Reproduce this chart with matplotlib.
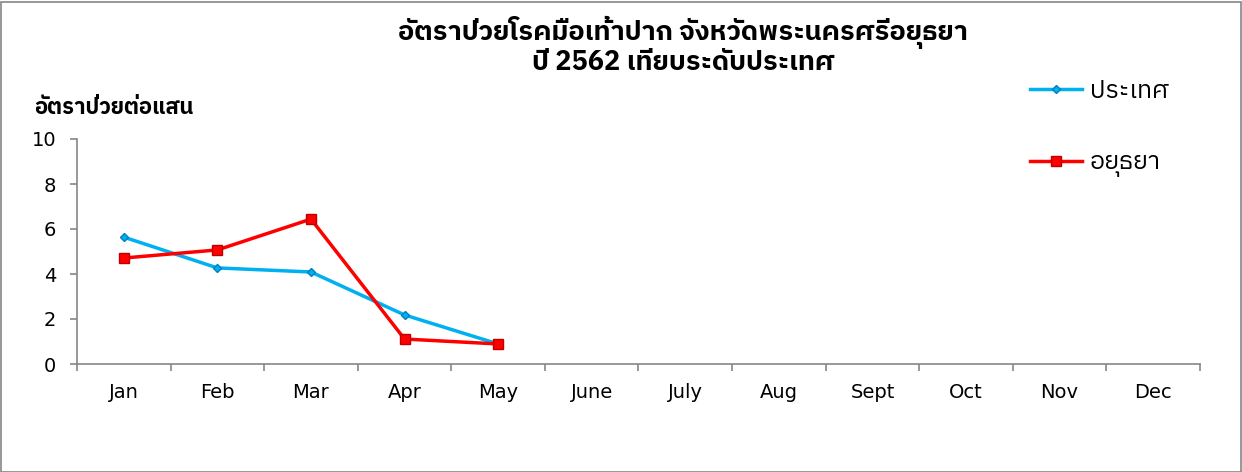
import matplotlib
matplotlib.use("Agg")
import matplotlib.pyplot as plt
from matplotlib.patches import Rectangle
import numpy as np

plt.rcParams['font.family'] = ['DejaVu Sans', 'IBM Plex Sans Thai']
thai = ['IBM Plex Sans Thai', 'DejaVu Sans']

months = ['Jan', 'Feb', 'Mar', 'Apr', 'May', 'June', 'July', 'Aug', 'Sept', 'Oct', 'Nov', 'Dec']
country = [5.64, 4.27, 4.09, 2.18, 0.89]
ayutthaya = [4.71, 5.07, 6.44, 1.11, 0.89]

title = "อัตราป่วยโรคมือเท้าปาก จังหวัดพระนครศรีอยุธยา\nปี 2562 เทียบระดับประเทศ"
ylabel = "อัตราป่วยต่อแสน"

fig = plt.figure(figsize=(12.42, 4.72), dpi=100)
ax = fig.add_axes([77 / 1242, 1 - 364 / 472, (1200 - 77) / 1242, (364 - 139) / 472])

x = np.arange(len(months))
ax.plot(x[:len(country)], country, color='#00B0F0', lw=2.5, marker='D', ms=4.5,
        mfc='#00B0F0', mec='#0080C0', label='ประเทศ')
ax.plot(x[:len(ayutthaya)], ayutthaya, color='#FF0000', lw=2.5, marker='s', ms=7,
        mfc='#FF0000', mec='#C00000', label='อยุธยา')

ax.set_xlim(-0.5, len(months) - 0.5)
ax.set_ylim(0, 10)
ax.set_yticks(range(0, 11, 2))
ax.set_xticks(x)
ax.set_xticklabels(months)
ax.set_xticks(np.arange(-0.5, len(months), 1.0), minor=True)

for s in ['top', 'right']:
    ax.spines[s].set_visible(False)
for s in ['left', 'bottom']:
    ax.spines[s].set_color('#868686')
    ax.spines[s].set_linewidth(1.2)

ax.tick_params(axis='x', which='major', length=0, pad=14, labelsize=14)
ax.tick_params(axis='x', which='minor', length=5, direction='out', color='#868686', width=1.2)
ax.tick_params(axis='y', length=5, direction='out', color='#868686', width=1.2, pad=10, labelsize=14)

fig.text(683 / 1242, 1 - 46 / 472, title, ha='center', va='center', family=thai,
         fontsize=19.5, fontweight='bold', linespacing=1.0)
fig.text(34 / 1242, 1 - 107 / 472, ylabel, ha='left', va='center', family=thai,
         fontsize=15.8, fontweight='bold')

fig.legend(loc='upper left', bbox_to_anchor=(1007 / 1242, 1 - 57 / 472), frameon=False,
           prop={'family': thai, 'size': 18}, labelspacing=1.95, handlelength=2.1,
           handletextpad=0.3)

fig.patches.append(Rectangle((0.5 / 1242, 0.5 / 472), 1240 / 1242, 470 / 472,
                             transform=fig.transFigure, fill=False,
                             edgecolor='#868686', lw=1.2))

fig.savefig("out.png", dpi=100)
